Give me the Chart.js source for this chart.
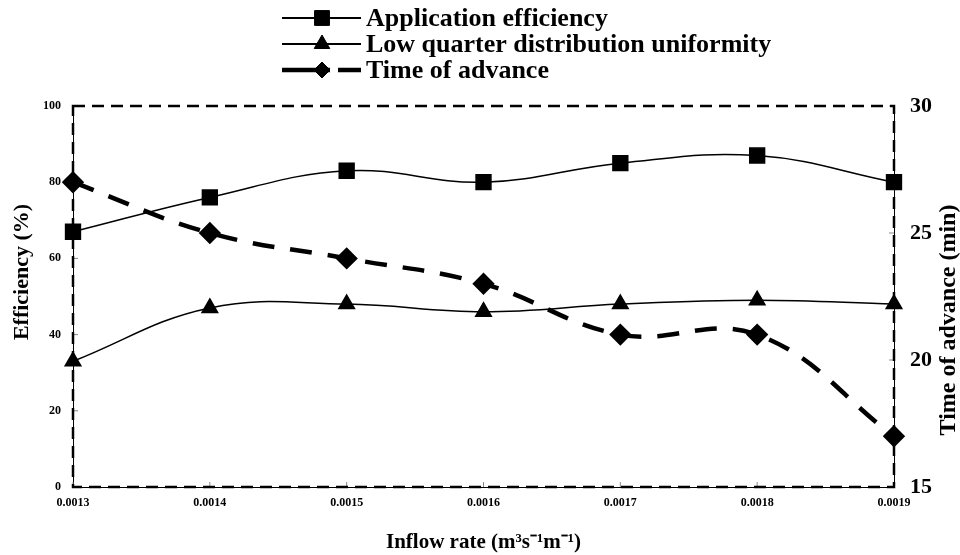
<!DOCTYPE html>
<html lang="en">
<head>
<meta charset="UTF-8">
<title>Efficiency and time of advance vs inflow rate</title>
<script src="https://cdn.jsdelivr.net/npm/chart.js"></script>
<style>
  body { margin: 0; background: #fff; }
  #wrap { width: 960px; height: 555px; }
</style>
</head>
<body>
<div id="wrap"><canvas id="chart" width="960" height="555"></canvas></div>
<script>
// values
const inflowRates = ['0.0013', '0.0014', '0.0015', '0.0016', '0.0017', '0.0018', '0.0019'];
const applicationEfficiency = [67, 76, 83, 80, 85, 87, 80];
const lowQuarterDU = [33, 47, 48, 46, 48, 49, 48];
const timeOfAdvance = [27, 25, 24, 23, 21, 21, 17];

const SERIF = '"Liberation Serif", "Times New Roman", serif';
const TOA_DASH = [22, 16];

// dashed plot frame + small inward tick marks
const framePlugin = {
  id: 'frame',
  beforeDatasetsDraw(chart) {
    const { ctx, chartArea: a, scales } = chart;
    ctx.save();
    ctx.strokeStyle = '#888';
    ctx.lineWidth = 1;
    scales.y.ticks.forEach(t => {
      const py = scales.y.getPixelForValue(t.value);
      ctx.beginPath(); ctx.moveTo(a.left, py); ctx.lineTo(a.left + 5, py); ctx.stroke();
    });
    scales.y1.ticks.forEach(t => {
      const py = scales.y1.getPixelForValue(t.value);
      ctx.beginPath(); ctx.moveTo(a.right, py); ctx.lineTo(a.right - 5, py); ctx.stroke();
    });
    scales.x.ticks.forEach((t, i) => {
      const px = scales.x.getPixelForTick(i);
      ctx.beginPath(); ctx.moveTo(px, a.bottom); ctx.lineTo(px, a.bottom - 5); ctx.stroke();
    });
    ctx.strokeStyle = '#000';
    ctx.lineWidth = 2.5;
    ctx.setLineDash([12, 7]);
    ctx.strokeRect(a.left, a.top, a.right - a.left, a.bottom - a.top);
    ctx.restore();
  }
};

// legend at the top and the two vertical axis titles
const legendPlugin = {
  id: 'topLegend',
  afterDraw(chart) {
    const { ctx } = chart;
    const rows = [18, 44, 70];
    ctx.save();
    ctx.fillStyle = '#000';
    ctx.strokeStyle = '#000';
    ctx.font = 'bold 26px ' + SERIF;
    ctx.textBaseline = 'middle';
    chart.data.datasets.forEach((ds, i) => {
      const y = rows[i];
      ctx.lineWidth = i === 2 ? 4.5 : 2;
      ctx.beginPath();
      if (i === 2) {
        ctx.moveTo(282, y); ctx.lineTo(330, y);
        ctx.moveTo(338, y); ctx.lineTo(361, y);
      } else {
        ctx.moveTo(282, y); ctx.lineTo(361, y);
      }
      ctx.stroke();
      ctx.lineWidth = 1;
      Chart.helpers.drawPoint(ctx, {
        pointStyle: ds.pointStyle, radius: ds.pointRadius, rotation: 0, borderWidth: 1
      }, 322, y);
      ctx.fillText(ds.label, 366, y + 1);
    });

    ctx.textAlign = 'center';
    ctx.save();
    ctx.translate(22, 272);
    ctx.rotate(-Math.PI / 2);
    ctx.font = 'bold 22px ' + SERIF;
    ctx.fillText('Efficiency (%)', 0, 0);
    ctx.restore();

    ctx.save();
    ctx.translate(949, 320);
    ctx.rotate(-Math.PI / 2);
    ctx.font = 'bold 24px ' + SERIF;
    ctx.fillText('Time of advance (min)', 0, 0);
    ctx.restore();
    ctx.restore();
  }
};

new Chart(document.getElementById('chart'), {
  type: 'line',
  data: {
    labels: inflowRates,
    datasets: [
      {
        label: 'Application efficiency',
        data: applicationEfficiency,
        yAxisID: 'y',
        borderColor: '#000', backgroundColor: '#000',
        borderWidth: 1.5, tension: 0.4,
        pointStyle: 'rect', pointRadius: 10.5,
        pointBackgroundColor: '#000', pointBorderColor: '#000',
        clip: false
      },
      {
        label: 'Low quarter distribution uniformity',
        data: lowQuarterDU,
        yAxisID: 'y',
        borderColor: '#000', backgroundColor: '#000',
        borderWidth: 1.5, tension: 0.4,
        pointStyle: 'triangle', pointRadius: 9,
        pointBackgroundColor: '#000', pointBorderColor: '#000',
        clip: false
      },
      {
        label: 'Time of advance',
        data: timeOfAdvance,
        yAxisID: 'y1',
        borderColor: '#000', backgroundColor: '#000',
        borderWidth: 4.5, borderDash: TOA_DASH, tension: 0.4,
        pointStyle: 'rectRot', pointRadius: 8,
        pointBackgroundColor: '#000', pointBorderColor: '#000',
        clip: false
      }
    ]
  },
  options: {
    responsive: false,
    animation: false,
    layout: { padding: { top: 106, left: 0, right: 0, bottom: 0 } },
    plugins: { legend: { display: false }, tooltip: { enabled: false } },
    scales: {
      x: {
        type: 'category',
        offset: false,
        grid: { drawOnChartArea: false, drawTicks: false },
        border: { display: true, color: '#000', width: 1 },
        ticks: { color: '#000', font: { family: SERIF, size: 12, weight: 'bold' }, padding: 9, maxRotation: 0, autoSkip: false },
        title: {
          display: true, text: 'Inflow rate (m³s⁻¹m⁻¹)', color: '#000',
          font: { family: SERIF, size: 21, weight: 'bold' }, padding: { top: 0, bottom: 0 }
        },
        afterFit(s) { s.height = 68; }
      },
      y: {
        position: 'left',
        min: 0, max: 100,
        grid: { drawOnChartArea: false, drawTicks: false },
        border: { display: true, color: '#000', width: 1 },
        ticks: { stepSize: 20, color: '#000', font: { family: SERIF, size: 12, weight: 'bold' }, padding: 12 },
        afterFit(s) { s.width = 73; }
      },
      y1: {
        position: 'right',
        min: 15, max: 30,
        grid: { drawOnChartArea: false, drawTicks: false },
        border: { display: true, color: '#000', width: 1 },
        ticks: { stepSize: 5, color: '#000', font: { family: SERIF, size: 22, weight: 'bold' }, padding: 16 },
        afterFit(s) { s.width = 66; }
      }
    }
  },
  plugins: [framePlugin, legendPlugin]
});
</script>
</body>
</html>
